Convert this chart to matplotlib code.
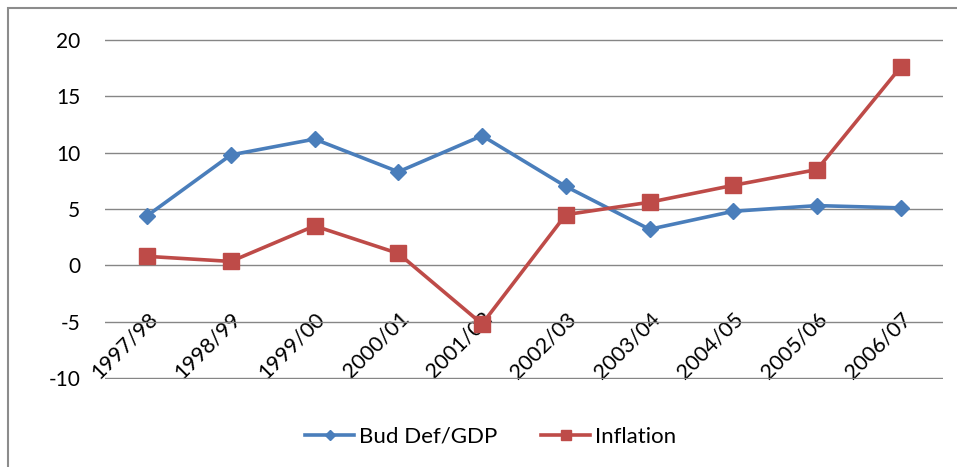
import matplotlib
matplotlib.use("Agg")
from matplotlib import pyplot as plt
from matplotlib.patches import Rectangle

years = ["1997/98", "1998/99", "1999/00", "2000/01", "2001/02",
         "2002/03", "2003/04", "2004/05", "2005/06", "2006/07"]
bud_def = [4.4, 9.8, 11.2, 8.3, 11.5, 7.0, 3.2, 4.8, 5.3, 5.1]
inflation = [0.8, 0.35, 3.5, 1.06, -5.2, 4.5, 5.6, 7.1, 8.5, 17.6]
y_ticks = [-10, -5, 0, 5, 10, 15, 20]

plt.rcParams["font.family"] = ["Lato", "DejaVu Sans"]

fig = plt.figure(figsize=(9.57, 4.67), dpi=100)
ax = fig.add_axes([0.110, 0.1884, 0.875, 0.7281])

# outer chart border
fig.patches.append(Rectangle((8 / 957, -0.01), 1.0, 1 - 8 / 467 + 0.01,
                             transform=fig.transFigure, fill=False,
                             edgecolor="#8c8c8c", linewidth=1.5))

x = list(range(len(years)))
ax.plot(x, bud_def, color="#4A7EBB", linewidth=2.6, marker="D",
        markersize=8, label="Bud Def/GDP")
ax.plot(x, inflation, color="#BE4B48", linewidth=2.6, marker="s",
        markersize=11, label="Inflation")

for s in ["top", "right", "left", "bottom"]:
    ax.spines[s].set_visible(False)
ax.spines["bottom"].set_position(("data", 0))

ax.set_xlim(-0.5, len(years) - 0.5)
ax.set_ylim(-10.08, 20.08)
ax.set_yticks(y_ticks)
ax.set_yticklabels([str(v) for v in y_ticks], fontsize=15)
ax.yaxis.grid(True, color="#868686", linewidth=1)
ax.set_axisbelow(True)

ax.set_xticks(x)
ax.set_xticklabels(years, fontsize=15.5, rotation=45, ha="right",
                   rotation_mode="anchor")
ax.tick_params(axis="both", length=0)
ax.tick_params(axis="x", pad=31)
ax.tick_params(axis="y", pad=18)

ax.legend(loc="center", bbox_to_anchor=(0.46, -0.17), ncol=2, frameon=False,
          fontsize=16, handlelength=2.2, handletextpad=0.2, columnspacing=2.0,
          markerscale=0.7)

fig.savefig("out.png", dpi=100)
